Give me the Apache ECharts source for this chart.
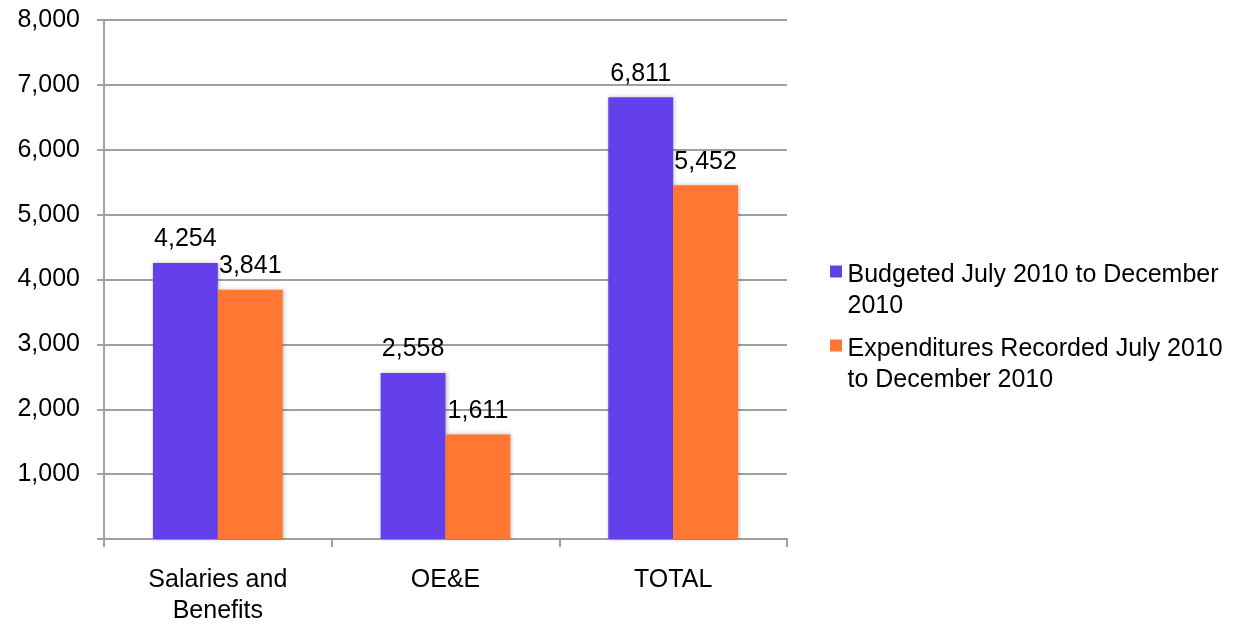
<!DOCTYPE html>
<html><head><meta charset="utf-8">
<script src="https://cdn.jsdelivr.net/npm/echarts@6/dist/echarts.min.js"></script>
<style>html,body{margin:0;padding:0;background:#fff}#c{width:1247px;height:625px}</style>
</head><body><div id="c"></div>
<script>
const categories = ['Salaries and\nBenefits', 'OE&E', 'TOTAL'];
const budgeted = [4254, 2558, 6811];
const expenditures = [3841, 1611, 5452];
const seriesNames = ['Budgeted July 2010 to December 2010', 'Expenditures Recorded July 2010 to December 2010'];
const legendText = {
  'Budgeted July 2010 to December 2010': 'Budgeted July 2010 to December\n2010',
  'Expenditures Recorded July 2010 to December 2010': 'Expenditures Recorded July 2010\nto December 2010'
};
const font = 'Liberation Sans, Arial, sans-serif';
const chart = echarts.init(document.getElementById('c'));
const fmt = v => v.toLocaleString('en-US');
const lbl = {show: true, position: 'top', distance: 11, fontSize: 25, fontFamily: font, color: '#000', formatter: p => fmt(p.value)};
const markerIcon = 'path://M0,0L1,0L1,1L0,1Z M0,4.25L0.0001,4.25';
chart.setOption({
  animation: false,
  textStyle: {fontFamily: font},
  grid: {left: 104, right: 460, top: 20, bottom: 86, containLabel: false, outerBoundsMode: 'none'},
  legend: {
    orient: 'vertical', left: 825, top: 255, itemWidth: 13, itemHeight: 51, itemGap: 12,
    formatter: n => legendText[n],
    textStyle: {fontSize: 25, fontFamily: font, color: '#000', lineHeight: 31},
    data: [{name: seriesNames[0], icon: markerIcon}, {name: seriesNames[1], icon: markerIcon}]
  },
  xAxis: {
    type: 'category', data: categories,
    axisLine: {lineStyle: {color: '#a0a0a0', width: 2}},
    axisTick: {show: true, length: 8, lineStyle: {color: '#a0a0a0', width: 2}},
    axisLabel: {fontSize: 25, color: '#000', margin: 26, lineHeight: 31, fontFamily: font}
  },
  yAxis: {
    type: 'value', min: 0, max: 8000, interval: 1000,
    axisLine: {show: true, lineStyle: {color: '#a0a0a0', width: 2}},
    axisTick: {show: true, length: 7, lineStyle: {color: '#a0a0a0', width: 2}},
    splitLine: {lineStyle: {color: '#a0a0a0', width: 2}},
    axisLabel: {fontSize: 25, color: '#000', margin: 24, fontFamily: font, formatter: v => v === 0 ? '' : fmt(v)}
  },
  series: [
    {name: seriesNames[0], type: 'bar', data: budgeted, barGap: '0%', barCategoryGap: '43%',
     itemStyle: {color: '#6440EB', shadowBlur: 4, shadowColor: 'rgba(0,0,0,0.25)', shadowOffsetX: 1}, label: lbl},
    {name: seriesNames[1], type: 'bar', data: expenditures, barGap: '0%', barCategoryGap: '43%',
     itemStyle: {color: '#FF7733', shadowBlur: 4, shadowColor: 'rgba(0,0,0,0.25)', shadowOffsetX: 1}, label: lbl}
  ]
});
</script></body></html>
